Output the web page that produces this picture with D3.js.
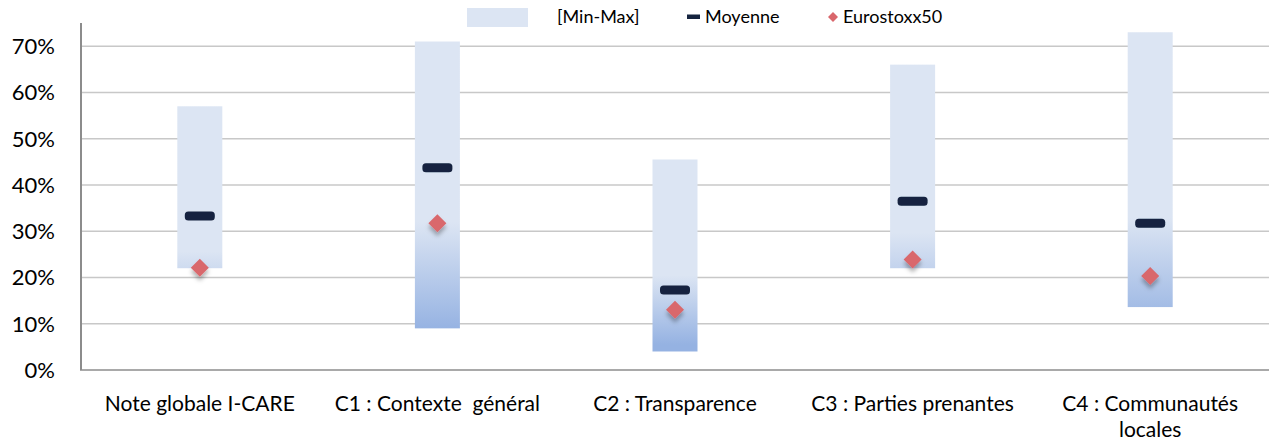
<!DOCTYPE html>
<html><head><meta charset="utf-8">
<script src="https://cdn.jsdelivr.net/npm/d3@7/dist/d3.min.js"></script>
<style>body{margin:0;background:#fff}svg{display:block}text{font-family:Lato,"Liberation Sans",sans-serif;fill:#000}</style>
</head><body>
<svg id="c" width="1276" height="443"></svg>
<script>
const categories = ["Note globale I-CARE", "C1 : Contexte  général", "C2 : Transparence", "C3 : Parties prenantes", "C4 : Communautés|locales"];
const minValues = [0.22, 0.09, 0.04, 0.22, 0.136];
const maxValues = [0.57, 0.71, 0.455, 0.66, 0.73];
const meanValues = [0.333, 0.437, 0.173, 0.365, 0.317];
const eurostoxxValues = [0.221, 0.317, 0.13, 0.239, 0.203];
const yTicks = [0, 0.1, 0.2, 0.3, 0.4, 0.5, 0.6, 0.7];
const legendLabels = ["[Min-Max]", "Moyenne", "Eurostoxx50"];

const svg = d3.select("#c");
const x = d3.scaleBand().domain(categories).range([81, 1269]).padding(0);
const y = d3.scaleLinear().domain([0, 0.75]).range([370, 23]);
const LIGHT = "#dce5f3", DARK = "#95b2e2";

const defs = svg.append("defs");
const sh = defs.append("filter").attr("id","dsh").attr("x","-50%").attr("y","-50%").attr("width","200%").attr("height","220%");
sh.append("feDropShadow").attr("dx",0).attr("dy",4).attr("stdDeviation",2.2).attr("flood-color","#000").attr("flood-opacity",0.3);
const bl = defs.append("filter").attr("id","soft").attr("x","-20%").attr("y","-50%").attr("width","140%").attr("height","200%");
bl.append("feGaussianBlur").attr("stdDeviation",0.7);

categories.forEach((c,i)=>{
  const g = defs.append("linearGradient").attr("id","gr"+i).attr("gradientUnits","userSpaceOnUse")
    .attr("x1",0).attr("x2",0).attr("y1",y(maxValues[i])).attr("y2",y(0));
  [[0,LIGHT],[0.55,LIGHT],[0.88,DARK],[1,DARK]].forEach(s=>g.append("stop").attr("offset",s[0]).attr("stop-color",s[1]));
});

// gridlines
svg.append("g").selectAll("line").data(yTicks.filter(d=>d>0)).join("line")
  .attr("x1",81).attr("x2",1269).attr("y1",d=>y(d)).attr("y2",d=>y(d))
  .attr("stroke","#c8c8c8").attr("stroke-width",1.5);

// y axis
const yAxis = d3.axisLeft(y).tickValues(yTicks).tickFormat(d3.format(".0%")).tickSize(0).tickPadding(0);
const ya = svg.append("g").attr("transform","translate(81,0)").call(yAxis);
ya.select(".domain").remove();
ya.selectAll("text").attr("x",-26).style("font-size","22px").attr("dy","0.34em");
svg.append("line").attr("x1",81).attr("x2",81).attr("y1",23).attr("y2",370).attr("stroke","#8c8c8c").attr("stroke-width",2);
svg.append("line").attr("x1",80).attr("x2",1269).attr("y1",370).attr("y2",370).attr("stroke","#8c8c8c").attr("stroke-width",1.5);

// bars
const bw = 45;
svg.append("g").selectAll("rect").data(categories).join("rect")
  .attr("x",d=>x(d)+x.bandwidth()/2-bw/2).attr("width",bw)
  .attr("y",(d,i)=>y(maxValues[i])).attr("height",(d,i)=>y(minValues[i])-y(maxValues[i]))
  .attr("fill",(d,i)=>`url(#gr${i})`);

// mean markers
svg.append("g").selectAll("rect").data(categories).join("rect")
  .attr("x",d=>x(d)+x.bandwidth()/2-15).attr("width",30)
  .attr("y",(d,i)=>y(meanValues[i])-4.5).attr("height",9).attr("rx",3.5)
  .attr("fill","#15243f").attr("filter","url(#soft)");

// eurostoxx diamonds
const ds = 9;
svg.append("g").selectAll("path").data(categories).join("path")
  .attr("transform",(d,i)=>`translate(${x(d)+x.bandwidth()/2},${y(eurostoxxValues[i])})`)
  .attr("d",`M0,${-ds}L${ds},0L0,${ds}L${-ds},0Z`)
  .attr("fill","#d9676c").attr("filter","url(#dsh)");

// category labels
const xl = svg.append("g");
categories.forEach(c=>{
  const lines = c.split("|");
  const t = xl.append("text").attr("text-anchor","middle").style("font-size","21px")
    .attr("x",x(c)+x.bandwidth()/2).attr("y",411);
  lines.forEach((l,k)=>t.append("tspan").attr("x",x(c)+x.bandwidth()/2).attr("dy",k?26:0).attr("xml:space","preserve").text(l));
});

// legend
const lg = svg.append("g").style("font-size","18px");
lg.append("rect").attr("x",467).attr("y",8).attr("width",61).attr("height",19).attr("fill",LIGHT);
lg.append("text").attr("x",557).attr("y",23).text(legendLabels[0]);
lg.append("rect").attr("x",687).attr("y",14.5).attr("width",13).attr("height",4.5).attr("fill","#15243f");
lg.append("text").attr("x",705).attr("y",23).text(legendLabels[1]);
lg.append("path").attr("transform","translate(833,17)").attr("d","M0,-5L5,0L0,5L-5,0Z").attr("fill","#d9676c");
lg.append("text").attr("x",843).attr("y",23).text(legendLabels[2]);
</script>
</body></html>
